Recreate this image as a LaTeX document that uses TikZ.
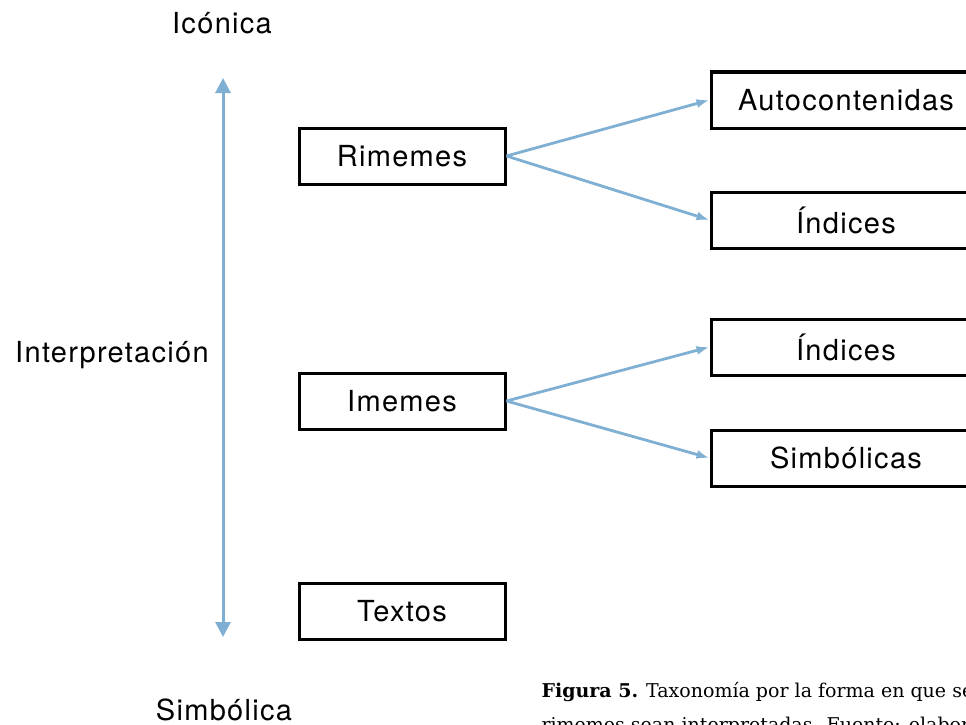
\documentclass[tikz,border=0pt]{standalone}
\usepackage{fontspec}
\setmainfont{TeX Gyre Heros}[LetterSpace=4.5]
\newfontfamily\capfont{DejaVu Serif}
\usetikzlibrary{arrows.meta,positioning}
\definecolor{axisblue}{RGB}{127,176,211}
\tikzset{
	clase/.style={draw,line width=3pt,minimum width=206pt,minimum height=56pt,inner sep=0pt,font=\fontsize{29}{34}\selectfont},
	subclase/.style={clase,minimum width=270pt},
	rama/.style={draw=axisblue,line width=2.8pt,-{Latex[length=13pt,width=9pt]}},
	etiqueta/.style={font=\fontsize{29}{34}\selectfont},
	pie/.style={anchor=base west,font=\capfont\fontsize{19}{34}\selectfont}
}

\begin{document}
\begin{tikzpicture}[x=1pt,y=-1pt]
	\useasboundingbox (0,0) rectangle (966,725);
	\clip (0,0) rectangle (966,725);
	
	% Axis
	\coordinate (arriba) at (223,78);
	\coordinate (abajo) at (223,637);
	\draw[axisblue, line width=3pt, {Triangle[length=15pt,width=15pt]}-{Triangle[length=15pt,width=15pt]}] (arriba) -- (abajo);
	\node[etiqueta] (iconica) at (222,23) {Icónica};
	\node[etiqueta] (interp) at (112,355) {Interpretación};
	\node[etiqueta] (simbolica) at (224,710) {Simbólica};
	
	% Boxes
	\node[clase] (rimemes) at (402,156) {Rimemes};
	\node[clase] (imemes) at (402,401) {Imemes};
	\node[clase] (textos) at (402,611) {Textos};
	
	\node[subclase] (auto) at (846,100) {Autocontenidas};
	\node[subclase] (indicesA) at (846,220) {Índices};
	\node[subclase] (indicesB) at (846,347) {Índices};
	\node[subclase] (simbolicas) at (846,458) {Simbólicas};
	
	\draw[rama] (rimemes.east) -- (auto.west);
	\draw[rama] (rimemes.east) -- (indicesA.west);
	\draw[rama] (imemes.east) -- (indicesB.west);
	\draw[rama] (imemes.east) -- (simbolicas.west);
	
	% Caption
	\node[pie] (pieA) at (538,697) {\textbf{Figura 5.} Taxonomía por la forma en que se};
	\node[pie] (pieB) at (538,731) {rimemes sean interpretadas. Fuente: elabora};
\end{tikzpicture}
\end{document}
